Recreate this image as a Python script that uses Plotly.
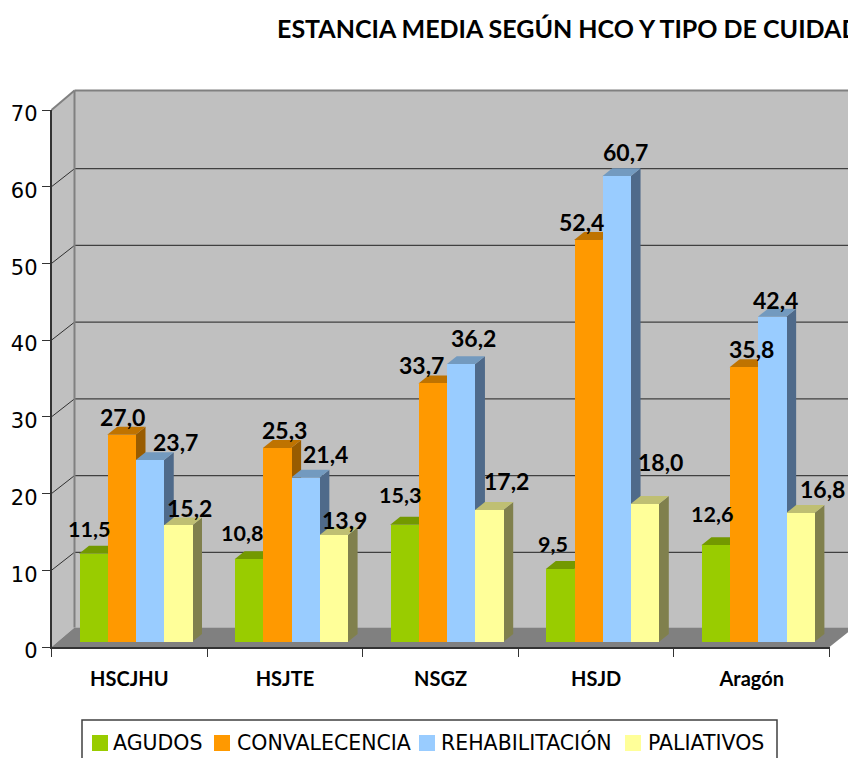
import plotly.graph_objects as go

categories = ["HSCJHU", "HSJTE", "NSGZ", "HSJD", "Aragón"]
series_names = ["AGUDOS", "CONVALECENCIA", "REHABILITACIÓN", "PALIATIVOS"]
agudos = [11.5, 10.8, 15.3, 9.5, 12.6]
convalecencia = [27.0, 25.3, 33.7, 52.4, 35.8]
rehabilitacion = [23.7, 21.4, 36.2, 60.7, 42.4]
paliativos = [15.2, 13.9, 17.2, 18.0, 16.8]
all_values = [agudos, convalecencia, rehabilitacion, paliativos]
y_ticks = [0, 10, 20, 30, 40, 50, 60, 70]

front_colors = ["#99CC00", "#FF9900", "#99CCFF", "#FFFF99"]
top_colors = ["#739900", "#BF7300", "#739ABF", "#BFBF73"]
side_colors = ["#4D6600", "#995C00", "#4F6A8A", "#80804D"]

# hand-placed data label offsets in pixels (from bar-top centre)
label_dx = [[-4, -7, -4, -7, -4], [1, 8, -11, -7, 8], [26, 20, 13, 9, 3], [12, 11, 17, 16, 22]]
label_dy = [[25, 26, 30, 25, 31], [18, 18, 18, 18, 18], [18, 24, 26, 24, 17], [17, 15, 29, 42, 24]]
label_sizes = [21.5, 23, 23, 23]

# legend layout in pixels
legend_swatch_x = [92, 214, 419, 625]
legend_text_x = [111, 234.5, 439, 645.5]
legend_text_y = [743, 743, 742, 743]

W, H = 848, 758
X0, X1, Y0, Y70 = 51.5, 829.5, 647.0, 110.0
px_per_cat = (X1 - X0) / 5
px_per_val = (Y0 - Y70) / 70
DEPTH_X, DEPTH_Y, GRID_DEPTH_Y = 23.0, 19.5, 18.0

bar_width = 28.25 / px_per_cat
bar_start = -0.5 + 27.5 / px_per_cat
bar_base = 5.0 / px_per_val
cap_dx = 10.0 / px_per_cat
cap_dy = 8.0 / px_per_val


def px(x):
    return x / W


def py(y):
    return 1 - y / H


def paper_poly(points, fill, line=None, width=0):
    d = "M" + " L".join(f"{px(a):.5f},{py(b):.5f}" for a, b in points) + " Z"
    return dict(type="path", xref="paper", yref="paper", path=d, fillcolor=fill,
                line=dict(color=line or fill, width=width), layer="below")


def paper_line(a, b, c, d, color, width):
    return dict(type="line", xref="paper", yref="paper", x0=px(a), y0=py(b), x1=px(c), y1=py(d),
                line=dict(color=color, width=width), layer="below")


shapes = []
# walls and floor
shapes.append(paper_poly([(X0 + DEPTH_X, Y70 - DEPTH_Y), (W + 6, Y70 - DEPTH_Y), (W + 6, Y0 - DEPTH_Y), (X0 + DEPTH_X, Y0 - DEPTH_Y)], "#C0C0C0"))
shapes.append(paper_poly([(X0, Y70), (X0 + DEPTH_X, Y70 - DEPTH_Y), (X0 + DEPTH_X, Y0 - DEPTH_Y), (X0, Y0)], "#C0C0C0"))
shapes.append(paper_poly([(X0, Y0), (X0 + DEPTH_X, Y0 - DEPTH_Y), (W + 6, Y0 - DEPTH_Y), (X1, Y0)], "#808080"))
# gridlines
for v in y_ticks[1:-1]:
    yy = Y0 - v * px_per_val
    shapes.append(paper_line(X0, yy, X0 + DEPTH_X, yy - GRID_DEPTH_Y, "#303030", 1))
    shapes.append(paper_line(X0 + DEPTH_X, yy - GRID_DEPTH_Y, W + 6, yy - GRID_DEPTH_Y, "#404040", 1.3))
# wall edges
shapes.append(paper_line(X0, Y70, X0 + DEPTH_X, Y70 - DEPTH_Y, "#808080", 2))
shapes.append(paper_line(X0 + DEPTH_X, Y70 - DEPTH_Y, W + 6, Y70 - DEPTH_Y, "#808080", 2))
shapes.append(paper_line(X0 + DEPTH_X, Y70 - DEPTH_Y, X0 + DEPTH_X, Y0 - DEPTH_Y, "#808080", 2))

# bar side and top faces, in data coordinates
for s, values in enumerate(all_values):
    for i, v in enumerate(values):
        left = i + bar_start + s * bar_width
        right = left + bar_width
        top = v + bar_base
        side = f"M{right:.4f},{bar_base:.4f} L{right + cap_dx:.4f},{bar_base + cap_dy:.4f} L{right + cap_dx:.4f},{top + cap_dy:.4f} L{right:.4f},{top:.4f} Z"
        cap = f"M{left:.4f},{top:.4f} L{left + cap_dx:.4f},{top + cap_dy:.4f} L{right + cap_dx:.4f},{top + cap_dy:.4f} L{right:.4f},{top:.4f} Z"
        shapes.append(dict(type="path", xref="x", yref="y", path=side, fillcolor=side_colors[s],
                           line=dict(width=0), layer="below"))
        shapes.append(dict(type="path", xref="x", yref="y", path=cap, fillcolor=top_colors[s],
                           line=dict(width=0), layer="below"))

fig = go.Figure()
annotations = []
for s, values in enumerate(all_values):
    fig.add_trace(go.Bar(
        name=series_names[s], x=categories, y=values, base=[bar_base] * len(values),
        width=bar_width, offset=bar_start + s * bar_width,
        marker=dict(color=front_colors[s], line=dict(width=0)),
    ))
    for i, v in enumerate(values):
        annotations.append(dict(
            x=i + bar_start + (s + 0.5) * bar_width, y=v + bar_base, xref="x", yref="y",
            text=f"{v:.1f}".replace(".", ","), showarrow=False,
            xshift=label_dx[s][i], yshift=label_dy[s][i],
            xanchor="center", yanchor="middle",
            font=dict(family="Lato", size=label_sizes[s], color="#000000", weight=700),
        ))

# legend box, swatches and labels
shapes.append(dict(type="rect", xref="paper", yref="paper", x0=px(82), x1=px(777), y0=py(770), y1=py(720),
                   fillcolor="white", line=dict(color="#404040", width=1.5), layer="above"))
for s, name in enumerate(series_names):
    shapes.append(dict(type="rect", xref="paper", yref="paper",
                       x0=px(legend_swatch_x[s]), x1=px(legend_swatch_x[s] + 16), y0=py(751), y1=py(735),
                       fillcolor=front_colors[s], line=dict(width=0), layer="above"))
    annotations.append(dict(x=px(legend_text_x[s]), y=py(legend_text_y[s]), xref="paper", yref="paper", text=name,
                            showarrow=False, xanchor="left", yanchor="middle",
                            font=dict(family="DejaVu Sans", size=20.5, color="#000000")))

fig.update_layout(
    width=W, height=H, autosize=False, showlegend=False,
    margin=dict(l=0, r=0, t=0, b=0, autoexpand=False),
    paper_bgcolor="white", plot_bgcolor="rgba(0,0,0,0)",
    barmode="overlay", bargap=0,
    title=dict(text="ESTANCIA MEDIA SEGÚN HCO Y TIPO DE CUIDAD", x=277 / W, xanchor="left", xref="paper",
               y=1 - 29 / H, yref="paper", yanchor="middle",
               font=dict(family="Lato", size=25, color="#000000", weight=700)),
    shapes=shapes, annotations=annotations,
    xaxis=dict(domain=[px(X0), px(X1)], type="category", categoryorder="array", categoryarray=categories,
               range=[-0.5, 4.5], tickson="boundaries", ticks="outside", ticklen=8, tickwidth=1, tickcolor="#333333",
               showgrid=False, showline=True, linecolor="#333333", linewidth=2, zeroline=False,
               ticklabelstandoff=13,
               tickfont=dict(family="Lato", size=20, color="#000000", weight=700)),
    yaxis=dict(domain=[py(Y0), py(Y70)], range=[0, 70], tickvals=y_ticks, ticks="outside", ticklen=8, tickwidth=1,
               tickcolor="#333333", showgrid=False, showline=True, linecolor="#333333", linewidth=1.5, zeroline=False,
               ticklabelshift=4,
               tickfont=dict(family="DejaVu Sans", size=21, color="#000000")),
)

fig.write_html("out.html", config={"displayModeBar": False},
               post_script="document.body.style.margin='0';document.body.style.overflow='hidden';")
